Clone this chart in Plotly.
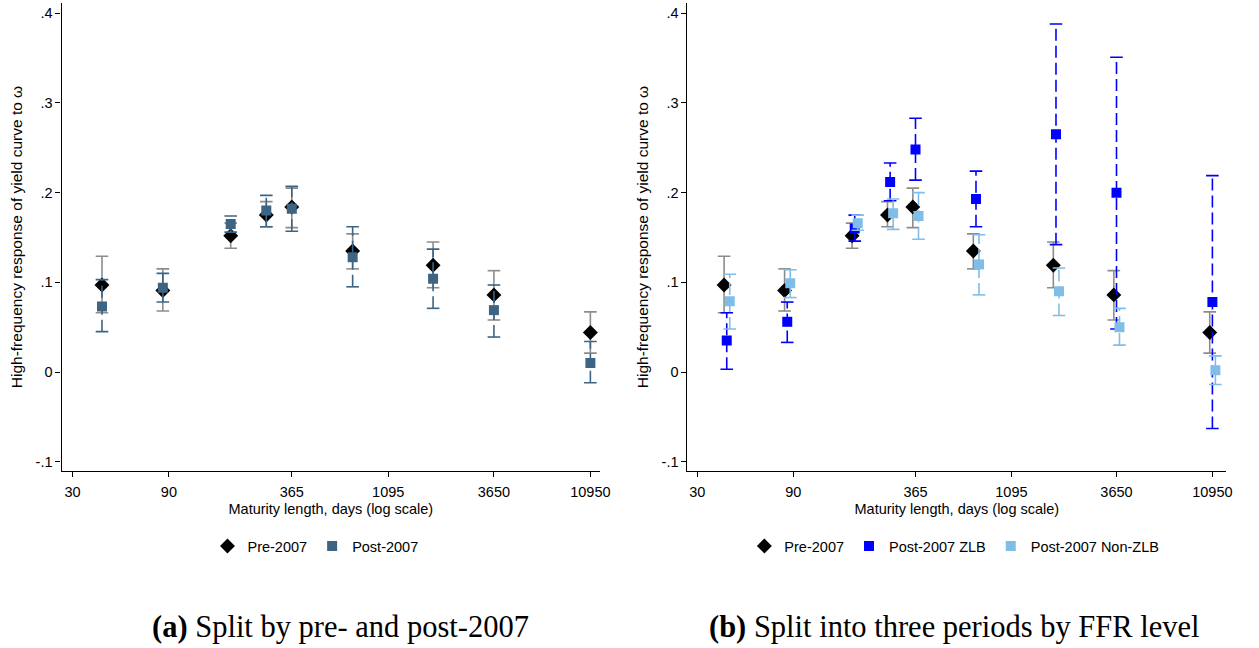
import plotly.graph_objects as go

# ---------------- data ----------------
maturity = [42, 84, 182, 273, 365, 730, 1825, 3650, 10950]

pre_est = [0.097, 0.091, 0.152, 0.175, 0.184, 0.135, 0.119, 0.086, 0.044]
pre_lo = [0.066, 0.068, 0.138, 0.162, 0.161, 0.115, 0.094, 0.058, 0.021]
pre_hi = [0.129, 0.115, 0.166, 0.190, 0.205, 0.154, 0.145, 0.113, 0.067]

post_est = [0.073, 0.094, 0.165, 0.180, 0.182, 0.128, 0.104, 0.069, 0.010]
post_lo = [0.045, 0.078, 0.156, 0.162, 0.157, 0.095, 0.071, 0.039, -0.012]
post_hi = [0.103, 0.110, 0.174, 0.197, 0.207, 0.162, 0.137, 0.097, 0.034]

zlb_est = [0.035, 0.056, 0.160, 0.212, 0.248, 0.193, 0.265, 0.200, 0.078]
zlb_lo = [0.003, 0.033, 0.146, 0.191, 0.214, 0.162, 0.142, 0.048, -0.063]
zlb_hi = [0.066, 0.078, 0.175, 0.233, 0.283, 0.224, 0.388, 0.351, 0.219]

nz_est = [0.079, 0.099, 0.166, 0.177, 0.174, 0.120, 0.090, 0.050, 0.002]
nz_lo = [0.048, 0.083, 0.158, 0.159, 0.148, 0.086, 0.063, 0.030, -0.014]
nz_hi = [0.109, 0.114, 0.175, 0.193, 0.200, 0.153, 0.116, 0.071, 0.018]

x_tickvals = [30, 90, 365, 1095, 3650, 10950]
x_ticktext = ["30", "90", "365", "1095", "3650", "10950"]
y_tickvals = [-0.1, 0, 0.1, 0.2, 0.3, 0.4]
y_ticktext = ["-.1", "0", ".1", ".2", ".3", ".4"]

captions = ["<b>(a)</b> Split by pre- and post-2007",
            "<b>(b)</b> Split into three periods by FFR level"]

# ---------------- style ----------------
C_PRE = "#000000"
C_PRE_CI = "#8c8c8c"
C_POST = "#3d6483"
C_ZLB = "#0000ff"
C_NZ = "#80bde8"
DASH = "12px,5px"

fig = go.Figure()


def shift(xs, f):
    return [v * f for v in xs]


def add_ci(x, lo, hi, color, dash, xa, ya):
    xs, ys = [], []
    for xi, l, h in zip(x, lo, hi):
        xs += [xi, xi, None]
        ys += [l, h, None]
    fig.add_trace(go.Scatter(x=xs, y=ys, mode="lines", xaxis=xa, yaxis=ya,
                             line=dict(color=color, width=1.6, dash=dash),
                             showlegend=False, hoverinfo="skip"))
    fig.add_trace(go.Scatter(x=list(x) + list(x), y=list(lo) + list(hi), mode="markers",
                             xaxis=xa, yaxis=ya,
                             marker=dict(symbol="line-ew", size=9,
                                         line=dict(color=color, width=1.6)),
                             showlegend=False, hoverinfo="skip"))


def add_pts(x, y, name, color, symbol, size, xa, ya, legend):
    fig.add_trace(go.Scatter(x=x, y=y, mode="markers", name=name, xaxis=xa, yaxis=ya,
                             marker=dict(symbol=symbol, size=size, color=color,
                                         line=dict(width=0)),
                             legend=legend))


# panel (a)
add_ci(maturity, pre_lo, pre_hi, C_PRE_CI, "solid", "x", "y")
add_pts(maturity, pre_est, "Pre-2007", C_PRE, "diamond", 11.5, "x", "y", "legend")
add_ci(maturity, post_lo, post_hi, C_POST, DASH, "x", "y")
add_pts(maturity, post_est, "Post-2007", C_POST, "square", 10, "x", "y", "legend")

# panel (b) (small horizontal dodge of the series)
m_pre = shift(maturity, 0.97)
m_nz = shift(maturity, 1.035)
add_ci(m_pre, pre_lo, pre_hi, C_PRE_CI, "solid", "x2", "y2")
add_pts(m_pre, pre_est, "Pre-2007", C_PRE, "diamond", 11.5, "x2", "y2", "legend2")
add_ci(maturity, zlb_lo, zlb_hi, C_ZLB, DASH, "x2", "y2")
add_pts(maturity, zlb_est, "Post-2007 ZLB", C_ZLB, "square", 10, "x2", "y2", "legend2")
add_ci(m_nz, nz_lo, nz_hi, C_NZ, DASH, "x2", "y2")
add_pts(m_nz, nz_est, "Post-2007 Non-ZLB", C_NZ, "square", 10, "x2", "y2", "legend2")

W, H = 1259, 648
yd = [1 - 471 / H, 1 - 3 / H]

xcommon = dict(type="log", tickvals=x_tickvals, ticktext=x_ticktext,
               showline=True, linecolor="black", linewidth=1.2, mirror=False,
               ticks="outside", ticklen=5, tickcolor="black", showgrid=False,
               zeroline=False, tickfont=dict(size=14.5), ticklabelstandoff=2,
               title=dict(text="Maturity length, days (log scale)",
                          font=dict(size=14.5), standoff=5))
ycommon = dict(range=[-0.1104, 0.4115], tickvals=y_tickvals, ticktext=y_ticktext,
               showline=True, linecolor="black", linewidth=1.2, mirror=False,
               ticks="outside", ticklen=5, tickcolor="black", showgrid=False,
               zeroline=False, tickfont=dict(size=14.5), domain=yd,
               title=dict(text="High-frequency response of yield curve to ω",
                          font=dict(size=15.5), standoff=9))

fig.update_layout(
    width=W, height=H,
    margin=dict(l=0, r=0, t=0, b=0),
    plot_bgcolor="white", paper_bgcolor="white",
    font=dict(family="Liberation Sans, Arial, sans-serif", size=14, color="black"),
    xaxis=dict(xcommon, domain=[62 / W, 605 / W], range=[1.423, 4.088], anchor="y"),
    yaxis=dict(ycommon, anchor="x"),
    xaxis2=dict(xcommon, domain=[693 / W, 1236 / W], range=[1.428, 4.108], anchor="y2"),
    yaxis2=dict(ycommon, anchor="x2"),
    legend=dict(orientation="h", x=318 / W, xanchor="center", y=1 - 546 / H,
                yanchor="middle", font=dict(size=14.5), itemwidth=30,
                bgcolor="rgba(0,0,0,0)"),
    legend2=dict(orientation="h", x=962 / W, xanchor="center", y=1 - 546 / H,
                 yanchor="middle", font=dict(size=14.5), itemwidth=30,
                 bgcolor="rgba(0,0,0,0)"),
    showlegend=True,
)

for txt, cx in zip(captions, [343, 962]):
    fig.add_annotation(text=txt, x=cx / W, y=1 - 627 / H, xref="paper", yref="paper",
                       xanchor="center", yanchor="middle", showarrow=False,
                       font=dict(family="Liberation Serif, Times New Roman, serif",
                                 size=30.5, color="black"))

fig.write_html("out.html")
